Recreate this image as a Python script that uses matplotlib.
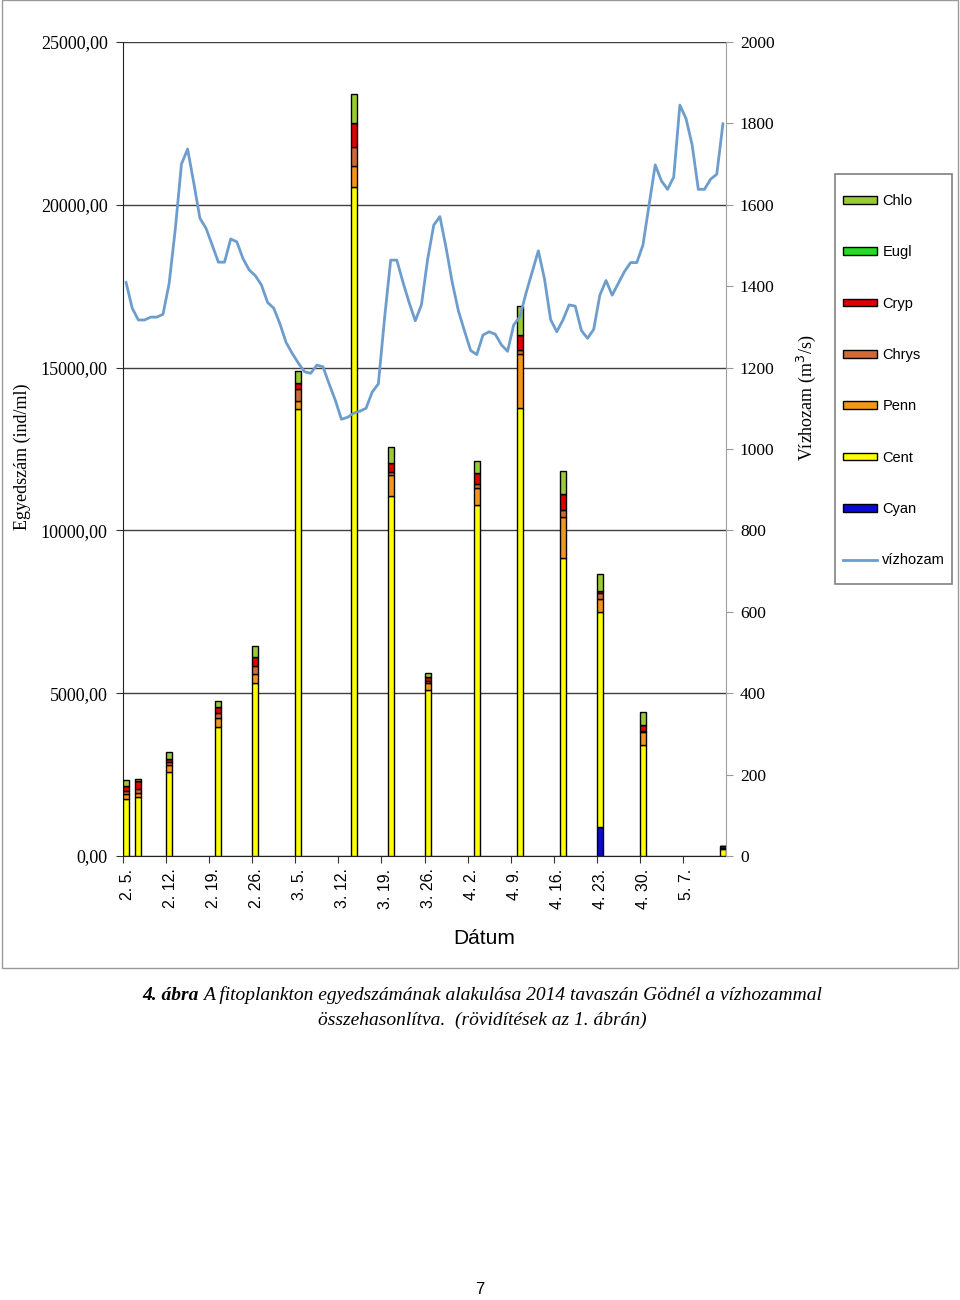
import matplotlib
matplotlib.use("Agg")
import matplotlib.pyplot as plt
import matplotlib.transforms as mtrans
from matplotlib.patches import Rectangle
from matplotlib.ticker import FuncFormatter, MultipleLocator
import numpy as np
import pandas as pd

SERIF = "Liberation Serif"
SANS = "Liberation Sans"

# sampling dates of the phytoplankton counts
sample_dates = ["2014-02-05", "2014-02-07", "2014-02-12", "2014-02-20", "2014-02-26",
                "2014-03-05", "2014-03-14", "2014-03-20", "2014-03-26", "2014-04-03",
                "2014-04-10", "2014-04-17", "2014-04-23", "2014-04-30", "2014-05-13"]

# ind/ml per group (stacked bottom -> top: Cyan, Cent, Penn, Chrys, Cryp, Eugl, Chlo)
cyan = [0, 0, 0, 0, 0, 0, 0, 0, 0, 0, 0, 0, 880, 0, 0]
cent = [1740, 1800, 2590, 3970, 5300, 13720, 20560, 11070, 5100, 10780, 13760, 9150, 6600, 3420, 210]
penn = [150, 130, 220, 270, 275, 260, 635, 645, 210, 510, 1660, 1270, 410, 380, 40]
chrys = [100, 120, 80, 140, 250, 360, 595, 70, 60, 145, 120, 215, 175, 50, 0]
cryp = [150, 250, 100, 200, 290, 200, 715, 275, 130, 340, 460, 480, 80, 170, 60]
eugl = [0, 0, 0, 0, 0, 0, 0, 0, 0, 0, 0, 0, 0, 0, 0]
chlo = [200, 50, 210, 180, 340, 360, 900, 490, 130, 360, 890, 695, 530, 400, 0]

# daily discharge (m3/s), 2014-02-05 .. 2014-05-13
q_start = "2014-02-05"
discharge = [1409, 1346, 1317, 1317, 1324, 1324, 1331, 1407, 1540, 1700,
             1737, 1654, 1567, 1542, 1501, 1459, 1459, 1516, 1509, 1468,
             1440, 1426, 1403, 1360, 1346, 1308, 1262, 1235, 1211, 1190,
             1186, 1206, 1202, 1160, 1120, 1073, 1078, 1088, 1093, 1100,
             1140, 1160, 1320, 1464, 1464, 1410, 1360, 1315, 1354, 1465,
             1550, 1571, 1495, 1410, 1340, 1290, 1242, 1232, 1280, 1288,
             1282, 1256, 1240, 1305, 1325, 1383, 1435, 1487, 1418, 1318,
             1288, 1317, 1354, 1351, 1291, 1272, 1294, 1378, 1414, 1378,
             1407, 1436, 1458, 1458, 1501, 1600, 1698, 1659, 1638, 1668,
             1845, 1812, 1747, 1638, 1638, 1663, 1675, 1799]

tick_dates = ["2014-02-05", "2014-02-12", "2014-02-19", "2014-02-26", "2014-03-05",
              "2014-03-12", "2014-03-19", "2014-03-26", "2014-04-02", "2014-04-09",
              "2014-04-16", "2014-04-23", "2014-04-30", "2014-05-07"]
tick_labels = ["2. 5.", "2. 12.", "2. 19.", "2. 26.", "3. 5.", "3. 12.", "3. 19.",
               "3. 26.", "4. 2.", "4. 9.", "4. 16.", "4. 23.", "4. 30.", "5. 7."]

W, H = 960, 1300


def fx(px):
    return px / W


def fy(py):
    return 1 - py / H


fig = plt.figure(figsize=(9.6, 13), dpi=100)
fig.patch.set_facecolor("white")

# grey frame round the chart
fig.patches.append(Rectangle((fx(2), fy(968)), fx(956), 968 / H, transform=fig.transFigure,
                             fill=False, edgecolor="#9a9a9a", linewidth=1))

ax = fig.add_axes([fx(123), fy(856), fx(726) - fx(123), fy(42) - fy(856)])
half_day = pd.Timedelta(hours=12)
bar_x = pd.to_datetime(sample_dates) + half_day

series = [("Cyan", cyan, "#0a0ad0"), ("Cent", cent, "#ffff00"), ("Penn", penn, "#f4961c"),
          ("Chrys", chrys, "#cf6a38"), ("Cryp", cryp, "#e00000"), ("Eugl", eugl, "#22dd22"),
          ("Chlo", chlo, "#99cc33")]
bottom = np.zeros(len(sample_dates))
handles = {}
for name, vals, color in series:
    vals = np.array(vals, dtype=float)
    handles[name] = ax.bar(bar_x, vals, width=1.0, bottom=bottom, color=color,
                           edgecolor="black", linewidth=1.0, zorder=3)
    bottom += vals

ax.set_xlim(pd.Timestamp("2014-02-05"), pd.Timestamp("2014-05-14"))
ax.set_ylim(0, 25000)
ax.yaxis.set_major_locator(MultipleLocator(5000))
ax.yaxis.set_major_formatter(FuncFormatter(lambda v, p: f"{v:.2f}".replace(".", ",")))
ax.tick_params(axis="x", direction="out", length=5, pad=4, color="#333333")
ax.tick_params(axis="y", direction="out", length=5, pad=6, labelsize=13, color="#333333")
ax.set_xticks(pd.to_datetime(tick_dates))
ax.set_xticklabels(tick_labels, rotation=90, fontsize=11.5, family=SANS, va="top", ha="center")
offset = mtrans.ScaledTranslation(4 / 100, 0, fig.dpi_scale_trans)
for lab in ax.get_xticklabels():
    lab.set_transform(lab.get_transform() + offset)
for lab in ax.get_yticklabels():
    lab.set_family(SERIF)
ax.yaxis.grid(True, color="#404040", linewidth=1)
ax.set_axisbelow(True)
ax.spines["top"].set_visible(False)
ax.spines["right"].set_visible(False)
ax.spines["left"].set_color("#222222")
ax.spines["bottom"].set_color("#222222")

ax2 = ax.twinx()
q_x = pd.date_range(q_start, periods=len(discharge), freq="D") + half_day
line, = ax2.plot(q_x, discharge, color="#6d9dcc", linewidth=2.0, zorder=4)
ax2.set_ylim(0, 2000)
ax2.yaxis.set_major_locator(MultipleLocator(200))
ax2.tick_params(axis="y", direction="out", length=5, pad=5, labelsize=12.5, color="#999999")
for lab in ax2.get_yticklabels():
    lab.set_family(SERIF)
for s in ["left", "top", "bottom"]:
    ax2.spines[s].set_visible(False)
ax2.spines["right"].set_color("#a0a0a0")

fig.text(fx(22), fy(457), "Egyedszám (ind/ml)", rotation=90, ha="center", va="center",
         family=SERIF, fontsize=13)
fig.text(fx(806), fy(398), "Vízhozam (m$^3$/s)", rotation=90, ha="center", va="center",
         family=SERIF, fontsize=13)
fig.text(fx(484), fy(938), "Dátum", ha="center", va="center", family=SANS, fontsize=15)

# legend
fig.patches.append(Rectangle((fx(835), fy(584)), fx(952) - fx(835), (584 - 174) / H,
                             transform=fig.transFigure, fill=True, facecolor="white",
                             edgecolor="#808080", linewidth=1.2, zorder=1))
leg_names = ["Chlo", "Eugl", "Cryp", "Chrys", "Penn", "Cent", "Cyan"]
leg_handles = [handles[n] for n in leg_names] + [line]
leg = fig.legend(leg_handles, leg_names + ["vízhozam"], loc="upper left",
                 bbox_to_anchor=(fx(843), fy(194)), borderaxespad=0, borderpad=0,
                 frameon=False, handlelength=2.35, handleheight=0.45, handletextpad=0.35,
                 labelspacing=2.56, prop={"family": SANS, "size": 10.5})

# caption
renderer = fig.canvas.get_renderer()
t1 = fig.text(fx(142), fy(995), "4. ábra ", ha="left", va="center", family=SERIF,
              style="italic", weight="bold", fontsize=14)
bb = t1.get_window_extent(renderer)
fig.text(bb.x1 / W, fy(995), "A fitoplankton egyedszámának alakulása 2014 tavaszán Gödnél a vízhozammal",
         ha="left", va="center", family=SERIF, style="italic", fontsize=14)
fig.text(fx(482), fy(1020), "összehasonlítva.  (rövidítések az 1. ábrán)", ha="center", va="center",
         family=SERIF, style="italic", fontsize=14)
fig.text(fx(480), fy(1290), "7", ha="center", va="center", family=SANS, fontsize=12)

fig.savefig("out.png", dpi=100, facecolor="white")
